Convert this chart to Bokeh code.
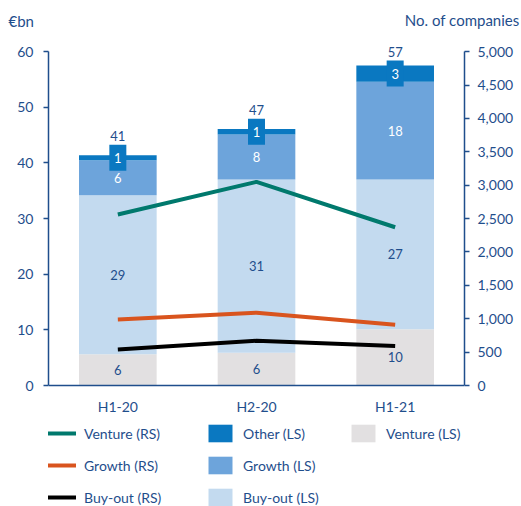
from bokeh.plotting import figure
from bokeh.models import (ColumnDataSource, FactorRange, Range1d, LinearAxis, FixedTicker,
                          NumeralTickFormatter, Legend, LegendItem, Label)
from bokeh.core.properties import value
from bokeh.embed import file_html
from bokeh.resources import INLINE

# ---- data ----
periods = ["H1-20", "H2-20", "H1-21"]
venture_ls = [5.6, 5.9, 10.1]
buyout_ls = [28.6, 31.1, 26.9]
growth_ls = [6.3, 8.1, 17.6]
other_ls = [0.9, 1.0, 2.9]
total_labels = ["41", "47", "57"]
venture_rs = [2560, 3050, 2370]
growth_rs = [990, 1090, 910]
buyout_rs = [540, 670, 590]
left_ticks = [0, 10, 20, 30, 40, 50, 60]
right_ticks = [0, 500, 1000, 1500, 2000, 2500, 3000, 3500, 4000, 4500, 5000]
left_max = 60
right_max = 5000

FONT = "Lato"
TXT = "#1f4e8c"
C_VENT = "#e2e0e1"
C_BUY = "#c3daef"
C_GROW = "#6da4db"
C_OTH = "#0a78c1"
C_TEAL = "#00796d"
C_ORANGE = "#d9541e"
C_BLACK = "#000000"

# ---- layout (pixels) ----
W, H = 521, 506
TOP = 40          # frame top
ZERO = 385        # pixel row of the zero line
top_val = 62.0    # left-scale value at frame top (a little headroom above 60)
lo_val = -top_val * (H - ZERO) / (ZERO - TOP)   # frame extends down over the legend area
r_scale = right_max / left_max

p = figure(x_range=FactorRange(factors=periods, range_padding=0),
           y_range=Range1d(lo_val, top_val), width=W, height=H,
           output_backend="svg", toolbar_location=None,
           min_border_left=48, min_border_right=57, min_border_top=TOP, min_border_bottom=0,
           outline_line_color=None)
p.extra_y_ranges = {"rs": Range1d(lo_val * r_scale, top_val * r_scale)}
p.xgrid.visible = False
p.ygrid.visible = False

src = ColumnDataSource(dict(period=periods, venture=venture_ls, buyout=buyout_ls,
                            growth=growth_ls, other=other_ls))
bars = p.vbar_stack(["venture", "buyout", "growth", "other"], x="period", width=0.56,
                    fill_color=[C_VENT, C_BUY, C_GROW, C_OTH], line_color=None, source=src)

v_mid = [v / 2 for v in venture_ls]
b_mid = [v + b / 2 for v, b in zip(venture_ls, buyout_ls)]
g_mid = [v + b + g / 2 for v, b, g in zip(venture_ls, buyout_ls, growth_ls)]
o_mid = [v + b + g + o / 2 for v, b, g, o in zip(venture_ls, buyout_ls, growth_ls, other_ls)]

lbl = dict(text_align="center", text_baseline="middle", text_font=value(FONT),
           text_font_size="13px")
p.text(x=periods, y=v_mid, text=[str(round(x)) for x in venture_ls], text_color=TXT, **lbl)
p.text(x=periods, y=b_mid, text=[str(round(x)) for x in buyout_ls], text_color=TXT, **lbl)
p.text(x=periods, y=g_mid, text=[str(round(x)) for x in growth_ls], text_color="white", **lbl)
p.rect(x=periods, y=o_mid, width=17, height=26, width_units="screen", height_units="screen",
       fill_color=C_OTH, line_color=None)
p.text(x=periods, y=o_mid, text=[str(round(x)) for x in other_ls], text_color="white", **lbl)
p.text(x=periods, y=o_mid, y_offset=-22, text=total_labels, text_color=TXT, **lbl)

l_v = p.line(periods, venture_rs, y_range_name="rs", line_width=4, color=C_TEAL)
l_g = p.line(periods, growth_rs, y_range_name="rs", line_width=4, color=C_ORANGE)
l_b = p.line(periods, buyout_rs, y_range_name="rs", line_width=4, color=C_BLACK)


def style_axis(ax, standoff):
    ax.axis_line_color = TXT
    ax.axis_line_width = 1.5
    ax.major_tick_line_color = TXT
    ax.major_tick_line_width = 1.5
    ax.major_tick_out = 5
    ax.major_tick_in = 0
    ax.minor_tick_out = 0
    ax.minor_tick_in = 0
    ax.major_label_text_color = TXT
    ax.major_label_text_font = FONT
    ax.major_label_text_font_size = "14px"
    ax.major_label_standoff = standoff


yl = p.yaxis[0]
yl.ticker = FixedTicker(ticks=left_ticks)
yl.bounds = (0, left_max)
style_axis(yl, 10)

yr = LinearAxis(y_range_name="rs", ticker=FixedTicker(ticks=right_ticks),
                formatter=NumeralTickFormatter(format="0,0"), bounds=(0, right_max))
style_axis(yr, 8)
p.add_layout(yr, "right")

xa = p.xaxis[0]
style_axis(xa, 12)
xa.major_tick_out = 0
xa.fixed_location = 0

# scale titles in the (unclipped) top panel
p.add_layout(Label(x=-40, y=20, x_units="screen", y_units="screen", text="€bn",
                   text_font=FONT, text_font_size="15px", text_color=TXT,
                   text_baseline="middle", text_align="left"), "above")
p.add_layout(Label(x=471, y=3, x_units="screen", y_units="screen", text="No. of companies",
                   text_font=FONT, text_font_size="15px", text_color=TXT,
                   text_baseline="middle", text_align="right"), "above")

leg_style = dict(orientation="vertical", glyph_width=30, glyph_height=22, spacing=10,
                 label_standoff=8, padding=0, margin=0, border_line_color=None,
                 background_fill_alpha=0, label_text_font=FONT, label_text_font_size="14px",
                 label_text_color=TXT, label_height=22)
leg1 = Legend(items=[LegendItem(label="Venture (RS)", renderers=[l_v]),
                     LegendItem(label="Growth (RS)", renderers=[l_g]),
                     LegendItem(label="Buy-out (RS)", renderers=[l_b])],
              location=(-2, -2), **leg_style)
leg2 = Legend(items=[LegendItem(label="Other (LS)", renderers=[bars[3]]),
                     LegendItem(label="Growth (LS)", renderers=[bars[2]]),
                     LegendItem(label="Buy-out (LS)", renderers=[bars[1]])],
              location=(157, -2), **leg_style)
leg3 = Legend(items=[LegendItem(label="Venture (LS)", renderers=[bars[0]])],
              location=(300, 62), **leg_style)
for lg in (leg1, leg2, leg3):
    p.add_layout(lg, "center")

open("out.html", "w").write(file_html(p, INLINE))
